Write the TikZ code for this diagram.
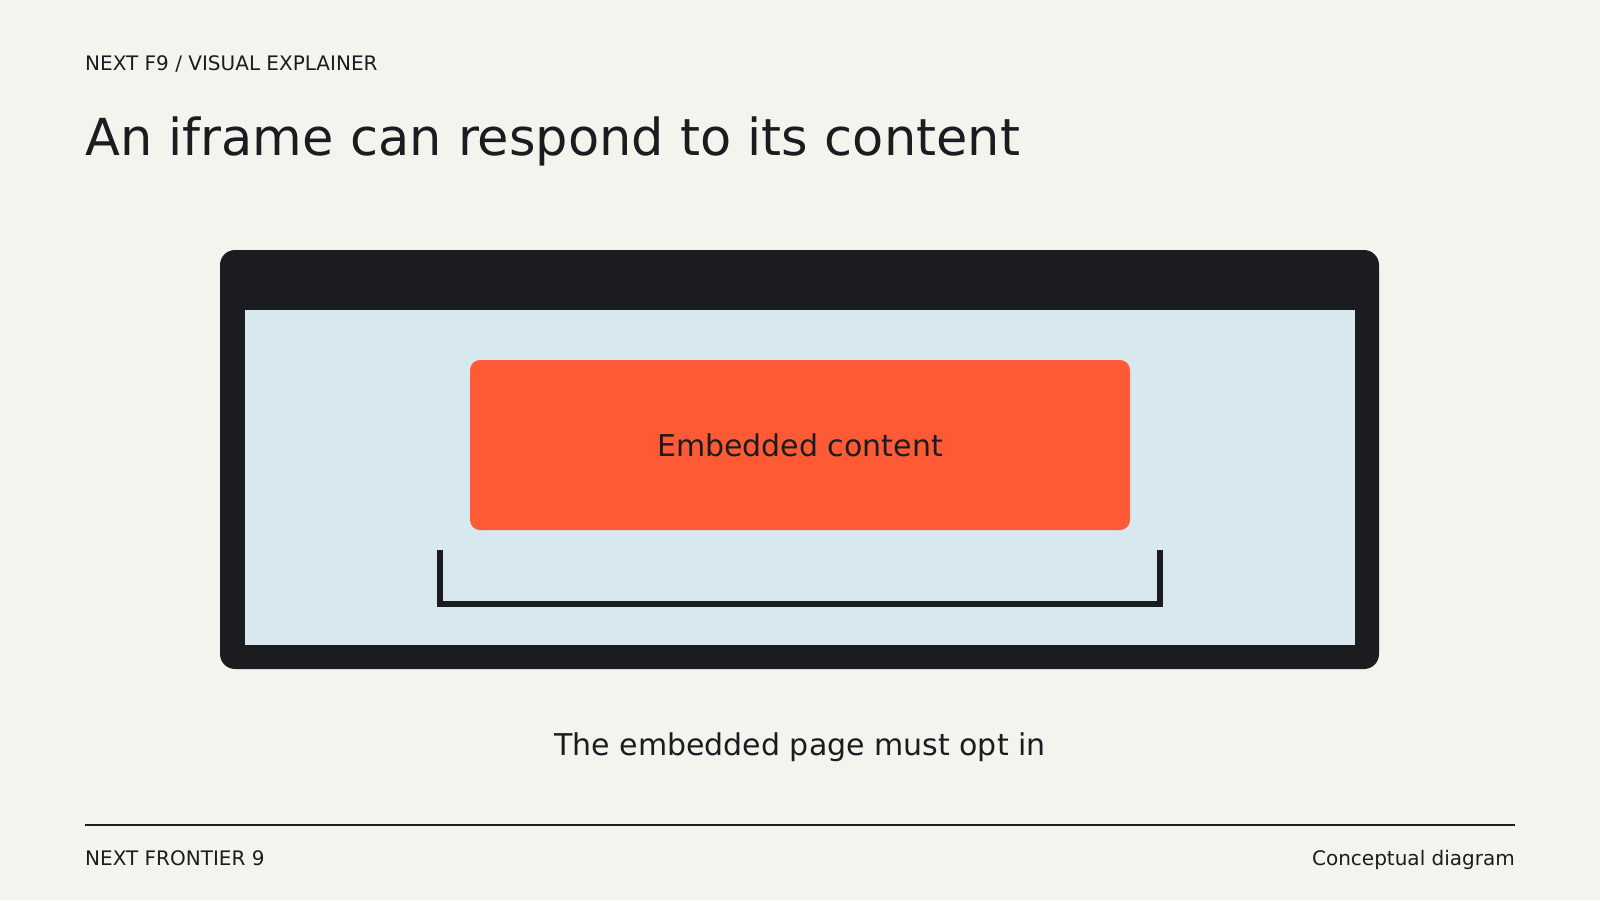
\documentclass[tikz,border=0pt]{standalone}
\usepackage{fontspec}
\setmainfont{DejaVu Sans}
\usepackage{tikz}
\definecolor{paper}{HTML}{F4F4EF}
\definecolor{ink}{HTML}{1B1C1F}
\definecolor{pane}{HTML}{D8E8EF}
\definecolor{accent}{HTML}{FF5A36}
\tikzset{
    label text/.style = {text = ink, inner sep = 0pt},
}
\begin{document}
\begin{tikzpicture}[x = 1pt, y = -1pt]
        \useasboundingbox[fill = paper] (0, 0) rectangle (1600, 900);

        % header
        \node[label text, anchor = base west, font = \fontsize{20}{24}\selectfont] (kicker) at (85, 70) {NEXT F9 / VISUAL EXPLAINER};
        \node[label text, anchor = base west, font = \fontsize{51}{60}\selectfont] (title) at (85, 155) {An iframe can respond to its content};

        % browser frame
        \fill[ink, rounded corners = 15] (220, 250) rectangle (1379, 669);
        \fill[pane] (245, 310) rectangle (1355, 645);
        \fill[accent, rounded corners = 10] (470, 360) rectangle (1130, 530);
        \node[label text, font = \fontsize{30}{34}\selectfont] (content) at (800, 445) {Embedded content};

        % bracket
        \draw[ink, line width = 5.5pt]
            (440, 550) -- (440, 604) -- (1160, 604) -- (1160, 550)
        ;

        \node[label text, font = \fontsize{30}{34}\selectfont] (caption) at (800, 747) {The embedded page must opt in};

        % footer
        \draw[ink, line width = 2pt] (85, 824.5) -- (1515, 824.5);
        \node[label text, anchor = base west, font = \fontsize{20}{24}\selectfont] (series) at (85, 865) {NEXT FRONTIER 9};
        \node[label text, anchor = base east, font = \fontsize{20}{24}\selectfont] (kind) at (1515, 865) {Conceptual diagram};

    \end{tikzpicture}
\end{document}
